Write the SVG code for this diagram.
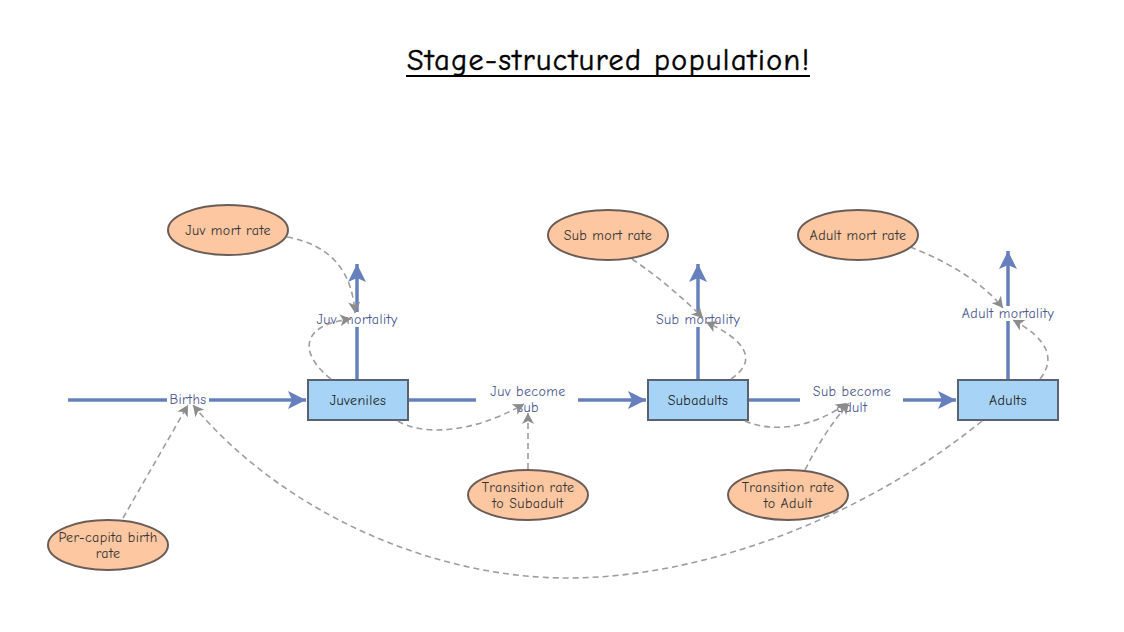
<svg xmlns="http://www.w3.org/2000/svg" width="1124" height="632" viewBox="0 0 1124 632">
<defs>
<style>
text{font-family:"Comic Sans MS","Comic Neue","DejaVu Sans",sans-serif;font-size:14px;letter-spacing:0.4px;text-anchor:middle;dominant-baseline:central}
.title{font-size:30px;fill:#000;letter-spacing:0;dominant-baseline:alphabetic;stroke:#000;stroke-width:0.5}
.flow{fill:none;stroke:#6580bd;stroke-width:3.5}
.stock rect{fill:#a6d3f6;stroke:#59636e;stroke-width:2}
.stock text{fill:#222}
.var ellipse{fill:#fdc7a1;stroke:#6a5d58;stroke-width:2}
.var text{fill:#333}
.flab text{fill:#4a5790}
.flab rect{fill:#fff}
.link{fill:none;stroke:#9e9e9e;stroke-width:1.6;stroke-dasharray:6 4}
</style>
<marker id="fa" markerUnits="userSpaceOnUse" markerWidth="20" markerHeight="18" refX="18" refY="9" orient="auto">
<path d="M0,0 L18,9 L0,18 L4,9 z" fill="#6580bd"/>
</marker>
<marker id="la" markerUnits="userSpaceOnUse" markerWidth="12" markerHeight="12" refX="11" refY="6" orient="auto">
<path d="M0,0 L11,6 L0,12 L3,6 z" fill="#8c8c8c"/>
</marker>
</defs>
<rect width="1124" height="632" fill="#fff"/>
<g id="title">
<text class="title" x="608" y="70" textLength="402" lengthAdjust="spacing">Stage-structured population!</text>
<line x1="406" y1="76" x2="810" y2="76" stroke="#000" stroke-width="2"/>
</g>

<g id="connectors">
<g id="flows">
<path class="flow" d="M68,400 L306,400" marker-end="url(#fa)"/>
<path class="flow" d="M409,400 L476,400"/>
<path class="flow" d="M578,400 L646,400" marker-end="url(#fa)"/>
<path class="flow" d="M749,400 L800,400"/>
<path class="flow" d="M903,400 L956,400" marker-end="url(#fa)"/>
<path class="flow" d="M357,379 L357,264" marker-end="url(#fa)"/>
<path class="flow" d="M698,379 L698,264" marker-end="url(#fa)"/>
<path class="flow" d="M1008,379 L1008,251" marker-end="url(#fa)"/>
</g>
</g>

<g id="flow-labels" class="flab">
<g id="births"><rect x="167" y="393" width="42" height="14"/><text x="188" y="399">Births</text></g>
<g id="juv-mortality"><rect x="313" y="312" width="88" height="15"/><text x="357" y="319">Juv mortality</text></g>
<g id="sub-mortality"><rect x="653" y="312" width="90" height="15"/><text x="698" y="319">Sub mortality</text></g>
<g id="adult-mortality"><rect x="957" y="306" width="102" height="15"/><text x="1008" y="313">Adult mortality</text></g>
<g id="juv-become-sub"><text x="528" y="391">Juv become</text><text x="528" y="407">sub</text></g>
<g id="sub-become-adult"><text x="852" y="391">Sub become</text><text x="852" y="407">adult</text></g>
</g>

<g id="stocks" class="stock">
<g id="juveniles"><rect x="308" y="380" width="100" height="40"/><text x="358" y="400">Juveniles</text></g>
<g id="subadults"><rect x="648" y="380" width="100" height="40"/><text x="698" y="400">Subadults</text></g>
<g id="adults"><rect x="958" y="380" width="100" height="40"/><text x="1008" y="400">Adults</text></g>
</g>

<g id="links">
<path class="link" d="M287,237 C330,245 352,270 355,313" marker-end="url(#la)"/>
<path class="link" d="M331,379 C300,355 298,325 351,319" marker-end="url(#la)"/>
<path class="link" d="M632,259 Q670,285 703,318" marker-end="url(#la)"/>
<path class="link" d="M731,379 C752,365 756,345 706,322" marker-end="url(#la)"/>
<path class="link" d="M910,247 C950,262 985,285 1003,308" marker-end="url(#la)"/>
<path class="link" d="M1040,379 C1055,360 1050,340 1013,320" marker-end="url(#la)"/>
<path class="link" d="M398,421 C420,435 470,435 524,404" marker-end="url(#la)"/>
<path class="link" d="M528,469 L528,413" marker-end="url(#la)"/>
<path class="link" d="M745,421 C770,432 810,430 847,403" marker-end="url(#la)"/>
<path class="link" d="M805,470 Q825,430 849,403" marker-end="url(#la)"/>
<path class="link" d="M123,518 L188,405" marker-end="url(#la)"/>
<path class="link" d="M982,421 C860,520 700,578 567,578 C430,578 280,510 193,405" marker-end="url(#la)"/>
</g>

<g id="variables" class="var">
<g id="juv-mort-rate"><ellipse cx="228" cy="230" rx="60" ry="25"/><text x="228" y="230">Juv mort rate</text></g>
<g id="sub-mort-rate"><ellipse cx="608" cy="235" rx="60" ry="25"/><text x="608" y="235">Sub mort rate</text></g>
<g id="adult-mort-rate"><ellipse cx="858" cy="235" rx="60" ry="25"/><text x="858" y="235">Adult mort rate</text></g>
<g id="per-capita-birth-rate"><ellipse cx="108" cy="545" rx="60" ry="25"/><text x="108" y="537">Per-capita birth</text><text x="108" y="553">rate</text></g>
<g id="transition-subadult"><ellipse cx="528" cy="495" rx="60" ry="25"/><text x="528" y="487">Transition rate</text><text x="528" y="503">to Subadult</text></g>
<g id="transition-adult"><ellipse cx="788" cy="495" rx="60" ry="25"/><text x="788" y="487">Transition rate</text><text x="788" y="503">to Adult</text></g>
</g>
</svg>
